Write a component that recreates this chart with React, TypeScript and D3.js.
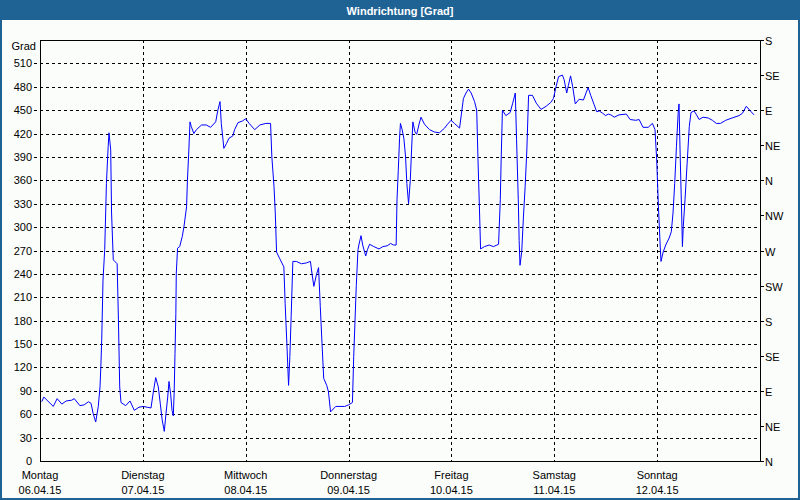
import React from "react";
import * as d3 from "d3";

// hours since Monday 00:00
const hours = [
  0.4, 0.9, 3.1, 4.0, 5.1, 6.1, 7.4, 8.0, 9.3, 10.3, 11.3, 11.9, 12.4, 13.0, 13.6, 14.0, 14.2, 14.4, 14.7, 15.1,
  15.5, 15.9, 16.1, 16.5, 16.7, 17.1, 18.0, 18.3, 18.6, 18.9, 20.0, 21.0, 22.0, 23.1, 24.1, 25.0, 25.9, 26.4, 27.0, 27.6,
  28.1, 28.5, 29.0, 29.4, 29.8, 30.1, 30.5, 30.8, 31.1, 31.3, 31.5, 31.7, 31.8, 32.1, 32.6, 33.2, 33.6, 34.2, 34.4, 34.7,
  35.0, 35.3, 35.9, 36.5, 37.7, 38.8, 39.8, 41.0, 41.5, 42.0, 42.3, 42.7, 42.9, 43.5, 44.1, 45.0, 45.4, 46.2, 47.2, 48.0,
  48.8, 50.1, 51.3, 52.7, 53.8, 54.1, 54.6, 54.9, 55.2, 55.9, 56.9, 57.2, 57.6, 58.0, 58.3, 58.6, 59.0, 59.8, 61.0, 62.1,
  63.1, 63.5, 63.9, 64.5, 65.0, 65.4, 65.8, 66.2, 66.9, 67.3, 67.8, 69.0, 71.1, 72.0, 72.9, 73.2, 73.8, 74.2, 74.4, 74.9,
  75.3, 76.0, 76.4, 76.9, 77.9, 79.1, 80.0, 81.0, 81.8, 82.5, 83.1, 83.3, 83.6, 83.9, 84.1, 84.5, 84.9, 85.3, 85.6, 86.0,
  86.4, 86.7, 87.0, 87.5, 87.9, 88.4, 88.9, 89.7, 90.9, 92.0, 93.2, 94.4, 95.1, 95.9, 96.7, 97.9, 98.3, 98.8, 99.4, 100.0,
  100.6, 101.4, 101.9, 102.2, 102.5, 102.8, 103.7, 104.8, 105.8, 107.0, 107.4, 107.6, 107.9, 108.7, 109.7, 110.3, 110.9, 111.2, 111.6, 111.8,
  112.0, 112.4, 112.8, 113.2, 113.6, 114.0, 114.9, 115.8, 116.9, 118.1, 119.2, 119.8, 120.4, 121.0, 121.9, 122.3, 122.9, 123.3, 123.8, 124.3,
  124.9, 125.8, 126.8, 127.4, 127.9, 128.5, 129.3, 129.9, 130.5, 131.3, 132.0, 132.6, 133.2, 134.0, 135.1, 136.8, 137.7, 139.0, 139.8, 140.7,
  141.9, 142.9, 143.5, 143.9, 144.3, 144.7, 144.9, 145.4, 146.0, 146.8, 147.3, 147.7, 148.1, 148.5, 148.9, 149.1, 149.4, 149.7, 149.9, 150.1,
  150.5, 151.0, 151.5, 151.9, 152.6, 153.2, 153.8, 154.7, 155.9, 156.9, 157.8, 158.8, 160.0, 161.5, 163.1, 163.9, 164.8, 165.6, 166.6,
];

const degrees = [
  76, 82, 70, 80, 73, 77, 78, 80, 71, 72, 76, 74, 61, 50, 70, 95, 121, 155, 232, 271,
  356, 403, 421, 399, 318, 258, 253, 181, 95, 75, 71, 77, 65, 69, 70, 69, 68, 87, 107, 95,
  72, 53, 38, 61, 82, 102, 85, 65, 58, 87, 138, 189, 241, 273, 275, 288, 301, 326, 360, 395,
  435, 429, 420, 425, 431, 431, 428, 435, 450, 461, 433, 412, 401, 407, 414, 417, 425, 434, 436, 439,
  433, 425, 431, 433, 433, 390, 352, 318, 268, 260, 249, 202, 151, 97, 134, 185, 256, 256, 253, 254,
  256, 239, 224, 239, 248, 198, 151, 106, 97, 89, 63, 70, 70, 72, 75, 134, 225, 271, 277, 289,
  277, 263, 271, 278, 275, 272, 275, 276, 279, 277, 277, 335, 373, 414, 433, 425, 414, 390, 356, 330,
  360, 399, 435, 422, 419, 431, 441, 432, 425, 422, 421, 427, 432, 437, 433, 427, 444, 465, 472, 477,
  472, 461, 450, 386, 331, 272, 275, 277, 275, 278, 335, 386, 450, 443, 447, 459, 472, 412, 335, 283,
  251, 268, 313, 352, 399, 469, 469, 459, 451, 455, 460, 465, 480, 493, 495, 489, 472, 482, 494, 480,
  458, 464, 463, 472, 479, 469, 457, 448, 449, 446, 443, 445, 444, 441, 444, 445, 438, 437, 438, 428,
  428, 433, 425, 386, 326, 277, 256, 268, 277, 286, 294, 318, 356, 403, 446, 458, 386, 322, 275, 301,
  335, 382, 429, 447, 449, 444, 438, 441, 440, 437, 433, 433, 437, 440, 443, 446, 455, 450, 444,
];

const dayNames = ["Montag", "Dienstag", "Mittwoch", "Donnerstag", "Freitag", "Samstag", "Sonntag"];
const dayDates = ["06.04.15", "07.04.15", "08.04.15", "09.04.15", "10.04.15", "11.04.15", "12.04.15"];
const leftTicks = [0, 30, 60, 90, 120, 150, 180, 210, 240, 270, 300, 330, 360, 390, 420, 450, 480, 510];
const rightTickValues = [0, 45, 90, 135, 180, 225, 270, 315, 360, 405, 450, 495, 540];
const rightTickLabels = ["N", "NE", "E", "SE", "S", "SW", "W", "NW", "N", "NE", "E", "SE", "S"];
const title = "Windrichtung [Grad]";
const yUnit = "Grad";

export default function App() {
  const W = 800, H = 500;
  const left = 40, right = 760, top = 40, bottom = 461;
  const x = d3.scaleLinear().domain([0, 168]).range([left, right]);
  const y = d3.scaleLinear().domain([0, 540]).range([bottom, top]);
  const pts: [number, number][] = hours.map((h, i) => [h, degrees[i]]);
  const line = d3.line<[number, number]>().x((d) => x(d[0])).y((d) => y(d[1]));
  const font = "'Liberation Sans', Arial, sans-serif";
  const px = (v: number) => Math.round(v) + 0.5;

  return (
    <svg width={W} height={H} style={{ position: "absolute", left: 0, top: 0 }} fontFamily={font}>
      <rect x={0} y={0} width={W} height={H} fill="#fbfdfb" />
      <rect x={0} y={0} width={W} height={20} fill="#1f6395" />
      <rect x={0} y={0} width={2} height={H} fill="#1f6395" />
      <rect x={W - 2} y={0} width={2} height={H} fill="#1f6395" />
      <rect x={0} y={H - 2} width={W} height={2} fill="#1f6395" />
      <text x={W / 2} y={11} fill="#ffffff" fontSize={11} fontWeight="bold" textAnchor="middle" dominantBaseline="central">
        {title}
      </text>

      {/* horizontal grid */}
      {leftTicks.filter((t) => t > 0).map((t) => (
        <line key={"hg" + t} x1={34} x2={right} y1={px(y(t))} y2={px(y(t))} stroke="#000" strokeDasharray="3,3" strokeWidth={1} />
      ))}
      {/* vertical grid */}
      {d3.range(1, 7).map((d) => (
        <line key={"vg" + d} x1={px(x(d * 24))} x2={px(x(d * 24))} y1={top} y2={bottom} stroke="#000" strokeDasharray="3,3" strokeWidth={1} />
      ))}

      {/* frame */}
      <rect x={px(left)} y={px(top)} width={Math.round(right - left)} height={Math.round(bottom - top)} fill="none" stroke="#000" strokeWidth={1} />

      {/* left labels */}
      {leftTicks.map((t) => (
        <text key={"lt" + t} x={32} y={y(t)} fontSize={11} textAnchor="end" dominantBaseline="central" fill="#000">
          {t}
        </text>
      ))}
      <text x={36} y={46} fontSize={11} textAnchor="end" dominantBaseline="central" fill="#000">
        {yUnit}
      </text>

      {/* right ticks */}
      {rightTickValues.map((t, i) => (
        <g key={"rt" + i}>
          <line x1={right} x2={right + 4} y1={px(y(t))} y2={px(y(t))} stroke="#000" />
          <text x={right + 5} y={y(t) + 1} fontSize={11} dominantBaseline="central" fill="#000">
            {rightTickLabels[i]}
          </text>
        </g>
      ))}

      {/* bottom labels */}
      {dayNames.map((n, i) => (
        <g key={"d" + i}>
          <text x={x(i * 24)} y={475} fontSize={11} textAnchor="middle" dominantBaseline="central" fill="#000">
            {n}
          </text>
          <text x={x(i * 24)} y={490} fontSize={11} textAnchor="middle" dominantBaseline="central" fill="#000">
            {dayDates[i]}
          </text>
        </g>
      ))}

      <path d={line(pts) || ""} fill="none" stroke="#0000ff" strokeWidth={1} />
    </svg>
  );
}
